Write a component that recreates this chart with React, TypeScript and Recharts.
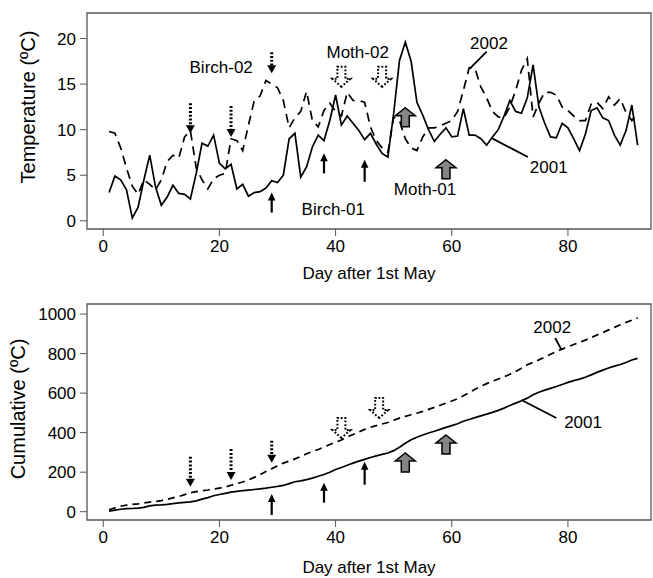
import React from "react";
import { LineChart, Line, XAxis, YAxis, ReferenceArea, ReferenceDot, ReferenceLine } from "recharts";

// day after 1st May
const days = Array.from({ length: 92 }, (_, i) => i + 1);

// daily mean temperature (ºC)
const temp2001 = [
  3.1, 4.9, 4.5, 3.4, 0.3, 1.5, 4.5, 7.2, 3.7, 1.7,
  2.6, 3.9, 3.0, 2.9, 2.4, 5.2, 8.5, 8.2, 9.4, 6.3,
  5.7, 6.2, 3.5, 4.0, 2.7, 3.1, 3.2, 3.6, 4.4, 4.2,
  5.0, 9.0, 9.6, 4.8, 5.9, 8.1, 9.4, 8.8, 11.0, 13.8,
  10.5, 11.5, 10.7, 9.9, 8.9, 9.6, 8.4, 7.4, 7.0, 11.8,
  17.6, 19.6, 17.5, 13.0, 11.6, 10.0, 8.7, 9.5, 10.2, 9.2,
  9.3, 12.3, 9.4, 9.4, 9.0, 8.3, 9.2, 10.0, 11.5, 13.2,
  12.0, 11.8, 13.5, 17.1, 12.5, 10.7, 9.2, 9.1, 10.7, 10.2,
  9.0, 7.7, 9.5, 12.1, 12.4, 11.3, 11.0, 9.4, 8.3, 9.9,
  12.7, 8.3,
];

const temp2002 = [
  9.8, 9.6, 8.0, 5.8, 3.8, 2.9, 4.5, 4.0, 3.4, 4.5,
  6.5, 7.2, 6.9, 9.2, 9.9, 5.8, 4.5, 3.5, 4.6, 5.0,
  5.2, 9.0, 8.8, 7.7, 10.5, 13.2, 13.7, 15.4, 15.0, 14.6,
  13.2, 10.2, 11.3, 12.0, 14.2, 11.0, 10.3, 12.1, 12.9, 12.0,
  11.5, 14.1, 13.2, 13.2, 13.0, 10.3, 8.8, 8.0, 7.5, 11.4,
  11.0, 9.0, 8.0, 7.7, 9.2, 10.2, 10.2, 10.4, 10.7, 11.0,
  12.0, 14.3, 16.8, 16.7, 14.7, 13.5, 12.0, 11.4, 11.3, 12.5,
  14.3, 16.5, 17.8, 11.4, 12.9, 14.1, 14.1, 13.8, 12.5, 12.1,
  11.5, 11.0, 11.0, 12.8, 13.0, 12.3, 13.6, 12.7, 13.4, 11.9,
  11.0, 11.8,
];

const xTicks = [0, 20, 40, 60, 80];
const tempTicks = [0, 5, 10, 15, 20];
const cumTicks = [0, 200, 400, 600, 800, 1000];

// event days (arrows)
const birch02Days = [15, 22, 29];
const birch01Days = [29, 38, 45];
const moth01Days = [52, 59];
const moth02Days = [41, 48];

// arrow tip positions (data units) in each panel
const birch02TipTemp = [9.6, 9.2, 16.2];
const birch02LenTemp = [30, 31, 21];
const birch01TipTemp = [3.1, 7.4, 6.7];
const birch01LenTemp = [20, 20, 22];
const moth01TipTemp = [12.4, 6.7];
const moth02TipTemp = [14.7, 14.7];

const birch02TipCum = [126, 160, 248];
const birch02LenCum = [30, 31, 22];
const birch01TipCum = [90, 147, 253];
const birch01LenCum = [21, 20, 23];
const moth01TipCum = [297, 388];
const moth02TipCum = [373, 474];

// running sums for the lower panel
const runningSum = (vals: number[]) => {
  let s = 0;
  return vals.map((v) => {
    s += v;
    return Math.round(s * 10) / 10;
  });
};
const cum2001 = runningSum(temp2001);
const cum2002 = runningSum(temp2002);

const data = days.map((d, i) => ({
  day: d,
  t2001: temp2001[i],
  t2002: temp2002[i],
  c2001: cum2001[i],
  c2002: cum2002[i],
}));

const font = '"Liberation Sans", Arial, Helvetica, sans-serif';
const xDomain = [-2.8, 94.3];
const boxColor = "#555";

const dottedDown = (len: number) => (p: any) => {
  const { cx, cy } = p;
  return (
    <g>
      <line x1={cx} y1={cy - len} x2={cx} y2={cy - 7} stroke="#000" strokeWidth={3} strokeDasharray="2 1.8" />
      <polygon points={`${cx - 4.5},${cy - 8} ${cx + 4.5},${cy - 8} ${cx},${cy}`} fill="#000" />
    </g>
  );
};

const solidUp = (len: number) => (p: any) => {
  const { cx, cy } = p;
  return (
    <g>
      <line x1={cx} y1={cy + 6} x2={cx} y2={cy + len} stroke="#000" strokeWidth={2.2} />
      <polygon points={`${cx - 3.8},${cy + 8} ${cx + 3.8},${cy + 8} ${cx},${cy}`} fill="#000" />
    </g>
  );
};

const grayUp = (p: any) => {
  const { cx, cy } = p;
  const pts = [
    [cx, cy], [cx + 10, cy + 8], [cx + 4, cy + 8], [cx + 4, cy + 19],
    [cx - 4, cy + 19], [cx - 4, cy + 8], [cx - 10, cy + 8],
  ].map((q) => q.join(",")).join(" ");
  return <polygon points={pts} fill="#858585" stroke="#000" strokeWidth={1.5} />;
};

const dottedBlock = (p: any) => {
  const { cx, cy } = p;
  const pts = [
    [cx, cy], [cx - 9, cy - 8], [cx - 4, cy - 8], [cx - 4, cy - 20],
    [cx + 4, cy - 20], [cx + 4, cy - 8], [cx + 9, cy - 8],
  ].map((q) => q.join(",")).join(" ");
  return <polygon points={pts} fill="none" stroke="#000" strokeWidth={2} strokeDasharray="1.8 1.8" />;
};

const textShape = (label: string) => (p: any) => (
  <text x={p.cx} y={p.cy} textAnchor="middle" dominantBaseline="central" fontSize={17} fontFamily={font} fill="#000">
    {label}
  </text>
);

const yTitle = (title: string, x: number, dy: number) => (props: any) => {
  const vb = props.viewBox || {};
  const cy = (vb.y || 0) + (vb.height || 0) / 2 + dy;
  return (
    <text x={x} y={cy} transform={`rotate(-90 ${x} ${cy})`} textAnchor="middle" dominantBaseline="central"
      fontSize={20} fontFamily={font} fill="#000">
      {title}
    </text>
  );
};

const xTitle = (offsetY: number) => (props: any) => {
  const vb = props.viewBox || {};
  return (
    <text x={(vb.x || 0) + (vb.width || 0) / 2} y={(vb.y || 0) + offsetY} textAnchor="middle"
      dominantBaseline="central" fontSize={17} fontFamily={font} fill="#000">
      Day after 1st May
    </text>
  );
};

const tickStyle = { fill: "#000", fontSize: 17, fontFamily: font };

function TempPanel() {
  const yDomain = [-0.9, 22.8];
  return (
    <LineChart width={653} height={290} data={data} margin={{ top: 13, right: 2, left: 0, bottom: 0 }}>
      <XAxis dataKey="day" type="number" domain={xDomain} ticks={xTicks} allowDataOverflow height={61}
        axisLine={false} tickLine={{ stroke: boxColor }} tickSize={7} tickMargin={4} tick={tickStyle}
        label={xTitle(44)} />
      <YAxis type="number" domain={yDomain} ticks={tempTicks} allowDataOverflow width={87}
        axisLine={false} tickLine={{ stroke: boxColor }} tickSize={7} tickMargin={4} tick={tickStyle}
        label={yTitle("Temperature (ºC)", 28, -14)} />
      <ReferenceArea x1={xDomain[0]} x2={xDomain[1]} y1={yDomain[0]} y2={yDomain[1]} fill="none"
        stroke={boxColor} strokeWidth={1.3} ifOverflow="visible" />
      <Line dataKey="t2002" type="linear" stroke="#000" strokeWidth={1.7} strokeDasharray="9 6" dot={false} isAnimationActive={false} />
      <Line dataKey="t2001" type="linear" stroke="#000" strokeWidth={1.7} dot={false} isAnimationActive={false} />
      {birch02Days.map((d, i) => (
        <ReferenceDot key={"b2" + d} x={d} y={birch02TipTemp[i]} r={1} shape={dottedDown(birch02LenTemp[i])} />
      ))}
      {birch01Days.map((d, i) => (
        <ReferenceDot key={"b1" + d} x={d} y={birch01TipTemp[i]} r={1} shape={solidUp(birch01LenTemp[i])} />
      ))}
      {moth01Days.map((d, i) => (
        <ReferenceDot key={"m1" + d} x={d} y={moth01TipTemp[i]} r={1} shape={grayUp} />
      ))}
      {moth02Days.map((d, i) => (
        <ReferenceDot key={"m2" + d} x={d} y={moth02TipTemp[i]} r={1} shape={dottedBlock} />
      ))}
      <ReferenceLine segment={[{ x: 66.0, y: 18.55 }, { x: 63.1, y: 16.7 }]} stroke="#000" strokeWidth={1.8} />
      <ReferenceLine segment={[{ x: 66.8, y: 9.1 }, { x: 73.1, y: 7.0 }]} stroke="#000" strokeWidth={1.8} />
      <ReferenceDot x={20.3} y={16.8} r={1} shape={textShape("Birch-02")} />
      <ReferenceDot x={43.8} y={18.5} r={1} shape={textShape("Moth-02")} />
      <ReferenceDot x={66.4} y={19.5} r={1} shape={textShape("2002")} />
      <ReferenceDot x={76.7} y={5.9} r={1} shape={textShape("2001")} />
      <ReferenceDot x={55.4} y={3.4} r={1} shape={textShape("Moth-01")} />
      <ReferenceDot x={39.6} y={1.2} r={1} shape={textShape("Birch-01")} />
    </LineChart>
  );
}

function CumPanel() {
  const yDomain = [-42, 1051];
  return (
    <LineChart width={653} height={288} data={data} margin={{ top: 14, right: 2, left: 0, bottom: 0 }}>
      <XAxis dataKey="day" type="number" domain={xDomain} ticks={xTicks} allowDataOverflow height={58}
        axisLine={false} tickLine={{ stroke: boxColor }} tickSize={7} tickMargin={4} tick={tickStyle}
        label={xTitle(47)} />
      <YAxis type="number" domain={yDomain} ticks={cumTicks} allowDataOverflow width={87}
        axisLine={false} tickLine={{ stroke: boxColor }} tickSize={7} tickMargin={4} tick={tickStyle}
        label={yTitle("Cumulative (ºC)", 18, -3)} />
      <ReferenceArea x1={xDomain[0]} x2={xDomain[1]} y1={yDomain[0]} y2={yDomain[1]} fill="none"
        stroke={boxColor} strokeWidth={1.3} ifOverflow="visible" />
      <Line dataKey="c2002" type="linear" stroke="#000" strokeWidth={1.7} strokeDasharray="7 5" dot={false} isAnimationActive={false} />
      <Line dataKey="c2001" type="linear" stroke="#000" strokeWidth={1.7} dot={false} isAnimationActive={false} />
      {birch02Days.map((d, i) => (
        <ReferenceDot key={"b2" + d} x={d} y={birch02TipCum[i]} r={1} shape={dottedDown(birch02LenCum[i])} />
      ))}
      {birch01Days.map((d, i) => (
        <ReferenceDot key={"b1" + d} x={d} y={birch01TipCum[i]} r={1} shape={solidUp(birch01LenCum[i])} />
      ))}
      {moth01Days.map((d, i) => (
        <ReferenceDot key={"m1" + d} x={d} y={moth01TipCum[i]} r={1} shape={grayUp} />
      ))}
      {moth02Days.map((d, i) => (
        <ReferenceDot key={"m2" + d} x={d === 48 ? 47.5 : d} y={moth02TipCum[i]} r={1} shape={dottedBlock} />
      ))}
      <ReferenceLine segment={[{ x: 77.8, y: 879 }, { x: 78.9, y: 819 }]} stroke="#000" strokeWidth={1.8} />
      <ReferenceLine segment={[{ x: 72.0, y: 565 }, { x: 78.0, y: 474 }]} stroke="#000" strokeWidth={1.8} />
      <ReferenceDot x={77.3} y={930} r={1} shape={textShape("2002")} />
      <ReferenceDot x={82.6} y={449} r={1} shape={textShape("2001")} />
    </LineChart>
  );
}

export default function App() {
  return (
    <div style={{ position: "absolute", left: 0, top: 0, width: 653, height: 578, background: "#fff" }}>
      <TempPanel />
      <CumPanel />
    </div>
  );
}
